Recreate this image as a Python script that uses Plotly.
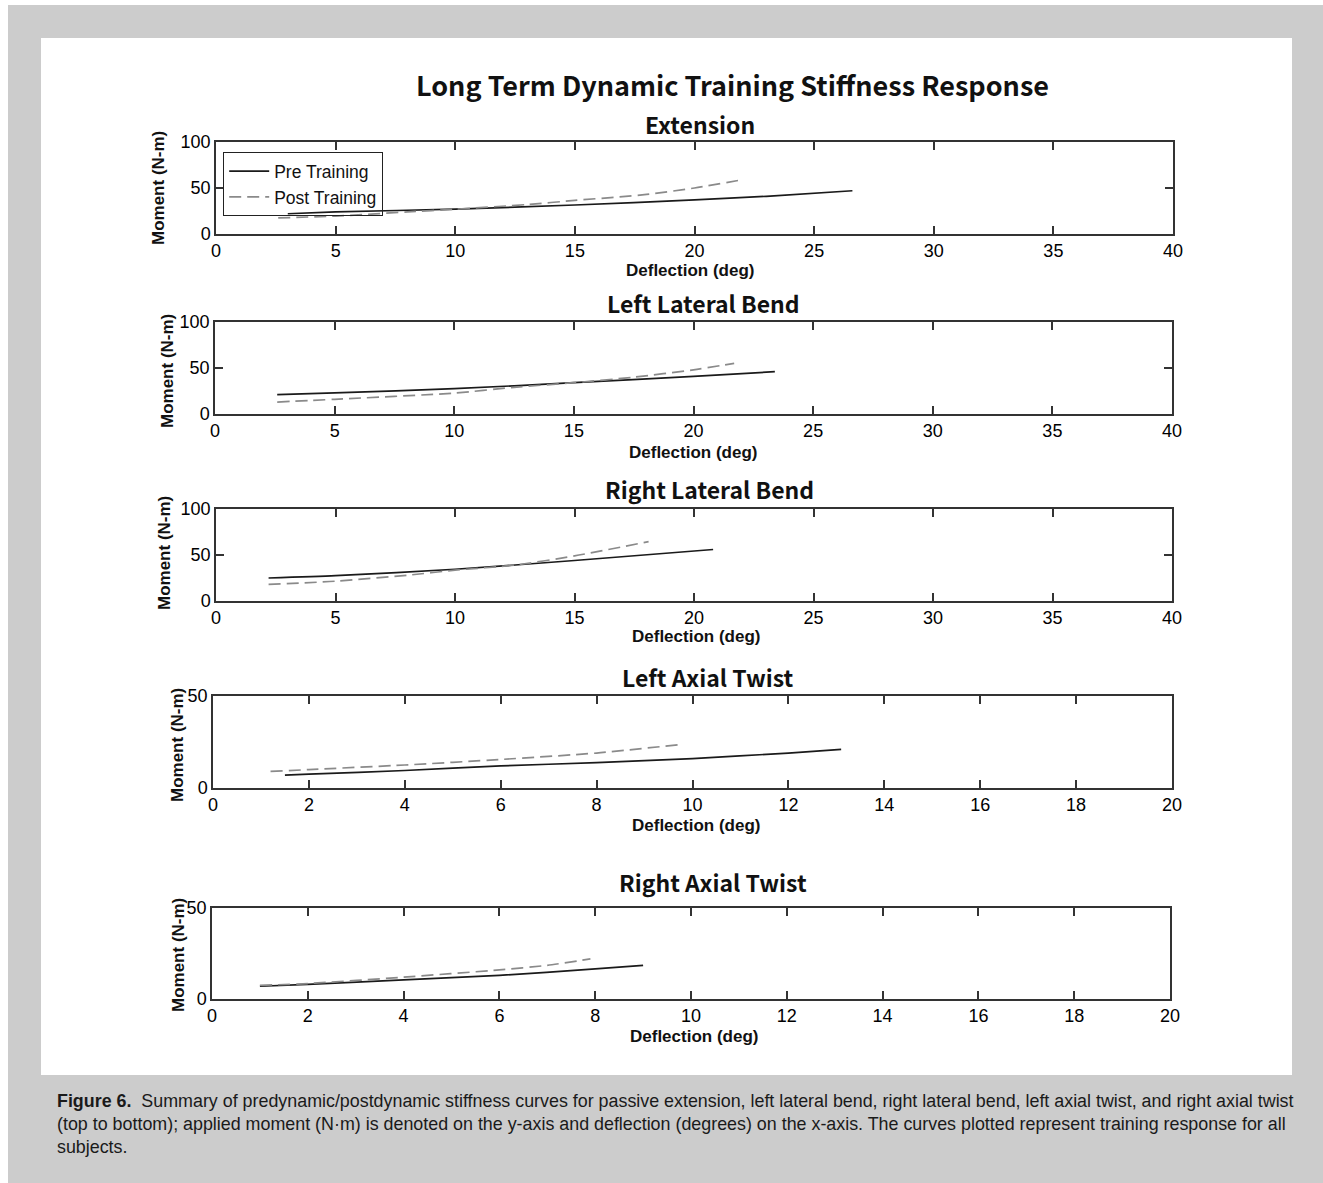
import plotly.graph_objects as go

# ---------------- data ----------------
panel_titles = ["Extension", "Left Lateral Bend", "Right Lateral Bend",
                "Left Axial Twist", "Right Axial Twist"]
series_names = ["Pre Training", "Post Training"]

ext_pre_x = [3.0, 5, 10, 15, 20, 23, 26.6]
ext_pre_y = [22, 24, 27, 31.5, 37, 41, 47]
ext_post_x = [2.6, 5, 8, 10, 13, 15, 18, 20, 22]
ext_post_y = [17.5, 19.5, 24, 27, 32, 36.5, 43, 50, 59]

llb_pre_x = [2.6, 5, 10, 15, 20, 23.4]
llb_pre_y = [21, 23, 27.5, 34, 41, 46]
llb_post_x = [2.6, 5, 10, 12.5, 15, 17.5, 20, 21.7]
llb_post_y = [13, 16, 22.7, 29, 34, 40, 48, 55]

rlb_pre_x = [2.2, 5, 10, 15, 20.8]
rlb_pre_y = [25, 27.5, 34.5, 44, 56]
rlb_post_x = [2.2, 5, 8, 10, 12.5, 15, 18.1]
rlb_post_y = [18, 21.5, 28, 33.5, 39, 49, 64.5]

lat_pre_x = [1.5, 2, 4, 6, 8, 10, 12, 13.1]
lat_pre_y = [7, 7.5, 9.5, 12, 13.8, 16, 19, 21]
lat_post_x = [1.2, 2, 4, 6, 8, 9.7]
lat_post_y = [9, 10, 12.5, 15.5, 19, 23.5]

rat_pre_x = [1.0, 2, 4, 6, 8, 9.0]
rat_pre_y = [7, 8, 10.5, 13, 16.5, 18.5]
rat_post_x = [1.0, 2, 4, 6, 7, 7.9]
rat_post_y = [7.5, 8.5, 12, 16, 18.5, 22]

x_ranges = [40, 40, 40, 20, 20]
x_dticks = [5, 5, 5, 2, 2]
y_ranges = [100, 100, 100, 50, 50]

pre_series = [(ext_pre_x, ext_pre_y), (llb_pre_x, llb_pre_y), (rlb_pre_x, rlb_pre_y),
              (lat_pre_x, lat_pre_y), (rat_pre_x, rat_pre_y)]
post_series = [(ext_post_x, ext_post_y), (llb_post_x, llb_post_y), (rlb_post_x, rlb_post_y),
               (lat_post_x, lat_post_y), (rat_post_x, rat_post_y)]

main_title = "Long Term Dynamic Training Stiffness Response"
x_label = "Deflection (deg)"
y_label = "Moment (N-m)"
caption_lines = [
    "<b>Figure 6.</b>  Summary of predynamic/postdynamic stiffness curves for passive extension, left lateral bend, right lateral bend, left axial twist, and right axial twist",
    "(top to bottom); applied moment (N\u00b7m) is denoted on the y-axis and deflection (degrees) on the x-axis. The curves plotted represent training response for all",
    "subjects.",
]

# ---------------- layout geometry (window pixels) ----------------
W, H = 1323, 1183
def px(x):
    return x / W
def py(y):
    return 1 - y / H

boxes = [  # x0, x1, ytop, ybottom
    (216, 1173, 142, 234),
    (215, 1172, 322, 414),
    (216, 1172, 509, 601),
    (213, 1172, 696, 788),
    (212, 1170, 908, 999),
]
title_pos = [(700, 124), (703, 303), (710, 489), (708, 677), (713, 882)]
xlabel_pos = [(690, 270), (693, 452), (696, 636), (696, 825), (694, 1036)]
ylabel_pos = [(158, 188), (167, 371), (165, 553), (178, 745), (178, 955)]

fig = go.Figure()
axis_font = dict(family="Liberation Sans, Arial, sans-serif", size=18, color="#000")

for i in range(5):
    xa = "x" if i == 0 else f"x{i+1}"
    ya = "y" if i == 0 else f"y{i+1}"
    ax_, ay_ = pre_series[i]
    qx, qy = post_series[i]
    fig.add_trace(go.Scatter(x=ax_, y=ay_, mode="lines", name=series_names[0],
                             line=dict(color="#1a1a1a", width=1.7, shape="spline", smoothing=0.6),
                             xaxis=xa, yaxis=ya, showlegend=(i == 0)))
    fig.add_trace(go.Scatter(x=qx, y=qy, mode="lines", name=series_names[1],
                             line=dict(color="#8a8a8a", width=1.7, dash="12px,6px", shape="spline", smoothing=0.6),
                             xaxis=xa, yaxis=ya, showlegend=(i == 0)))
    x0, x1, yt, yb = boxes[i]
    xk = "xaxis" if i == 0 else f"xaxis{i+1}"
    yk = "yaxis" if i == 0 else f"yaxis{i+1}"
    fig.layout[xk] = dict(domain=[px(x0), px(x1)], range=[0, x_ranges[i]], dtick=x_dticks[i], tick0=0,
                          anchor=ya, showgrid=False, zeroline=False, showline=True, linecolor="#333",
                          linewidth=1.5, mirror="ticks", ticks="inside", ticklen=8, tickwidth=1.5,
                          tickcolor="#333", tickfont=axis_font, fixedrange=True, automargin=False)
    fig.layout[yk] = dict(domain=[py(yb), py(yt)], range=[0, y_ranges[i]], dtick=50, tick0=0,
                          anchor=xa, showgrid=False, zeroline=False, showline=True, linecolor="#333",
                          linewidth=1.5, mirror="ticks", ticks="inside", ticklen=8, tickwidth=1.5,
                          tickcolor="#333", tickfont=axis_font, fixedrange=True, automargin=False)

title_font = "Noto Sans CJK JP, Liberation Sans, sans-serif"
annotations = []
annotations.append(dict(text=f"<b>{main_title}</b>", x=px(732), y=py(84), xref="paper", yref="paper",
                        showarrow=False, xanchor="center", yanchor="middle",
                        font=dict(family=title_font, size=27, color="#111")))
for i in range(5):
    tx, ty = title_pos[i]
    annotations.append(dict(text=f"<b>{panel_titles[i]}</b>", x=px(tx), y=py(ty), xref="paper", yref="paper",
                            showarrow=False, xanchor="center", yanchor="middle",
                            font=dict(family=title_font, size=23, color="#111")))
    lx, ly = xlabel_pos[i]
    annotations.append(dict(text=f"<b>{x_label}</b>", x=px(lx), y=py(ly), xref="paper", yref="paper",
                            showarrow=False, xanchor="center", yanchor="middle",
                            font=dict(family="Liberation Sans, Arial, sans-serif", size=17, color="#111")))
    vx, vy = ylabel_pos[i]
    annotations.append(dict(text=f"<b>{y_label}</b>", x=px(vx), y=py(vy), xref="paper", yref="paper",
                            showarrow=False, xanchor="center", yanchor="middle", textangle=-90,
                            font=dict(family="Liberation Sans, Arial, sans-serif", size=17, color="#111")))
for j, line in enumerate(caption_lines):
    annotations.append(dict(text=line, x=px(55), y=py(1101 + 23 * j), xref="paper", yref="paper",
                            showarrow=False, xanchor="left", yanchor="middle",
                            font=dict(family="Liberation Sans, Arial, sans-serif", size=17.88, color="#1a1a1a")))

shapes = [
    dict(type="rect", xref="paper", yref="paper", x0=px(8), x1=1, y0=0, y1=py(5),
         fillcolor="#cccccc", line=dict(width=0), layer="below"),
    dict(type="rect", xref="paper", yref="paper", x0=px(41), x1=px(1292), y0=py(1075), y1=py(38),
         fillcolor="white", line=dict(width=0), layer="below"),
]

fig.update_layout(
    width=W, height=H, autosize=False, margin=dict(l=0, r=0, t=0, b=0, pad=0, autoexpand=False),
    paper_bgcolor="white", plot_bgcolor="white",
    annotations=annotations, shapes=shapes,
    legend=dict(x=px(223), y=py(152), xanchor="left", yanchor="top",
                bordercolor="#222", borderwidth=1.2, bgcolor="rgba(255,255,255,0)",
                font=dict(family="Liberation Sans, Arial, sans-serif", size=17.5, color="#111"),
                tracegroupgap=0, itemwidth=40),
)

fig.write_html("out.html", config={"displayModeBar": False, "responsive": False},
               post_script="document.body.style.margin='0';document.body.style.overflow='hidden';")
